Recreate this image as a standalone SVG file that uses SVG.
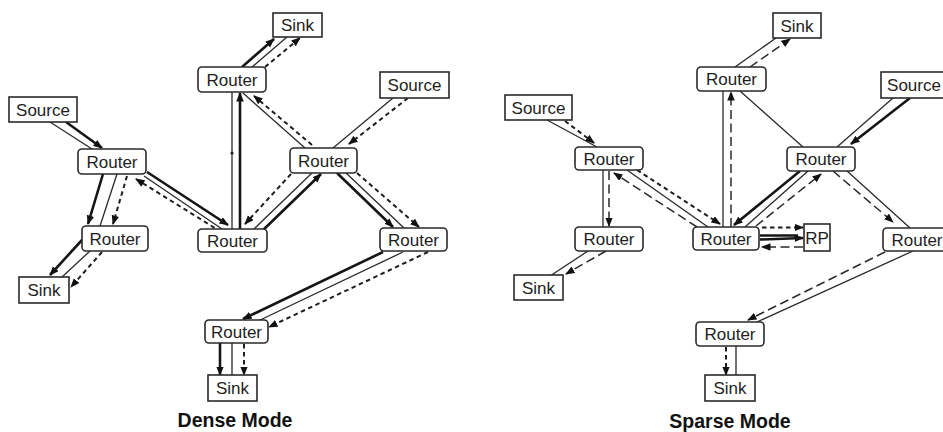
<svg xmlns="http://www.w3.org/2000/svg" width="943" height="432" viewBox="0 0 943 432">
  <style>
    .box { fill: #fff; stroke: #2a2a2a; stroke-width: 1.6; }
    .lbl { font-family: "Liberation Sans", Arial, sans-serif; font-size: 17px; fill: #1e1e1e; text-anchor: middle; }
    .title { font-family: "Liberation Sans", Arial, sans-serif; font-size: 19.5px; font-weight: bold; fill: #111; text-anchor: middle; }
    .thin { stroke: #2a2a2a; stroke-width: 1.3; fill: none; }
    .thick { stroke: #151515; stroke-width: 2.6; fill: none; }
    .dash { stroke: #1e1e1e; stroke-width: 2; stroke-dasharray: 4.5 3.5; fill: none; }
    .ldash { stroke: #2a2a2a; stroke-width: 1.5; stroke-dasharray: 9 4.5; fill: none; }
    .arr { marker-end: url(#ah); }
    .arrS { marker-start: url(#ahs); }
  </style>
  <defs>
    <marker id="ah" markerUnits="userSpaceOnUse" markerWidth="10" markerHeight="8" refX="8.5" refY="3.75" orient="auto">
      <path d="M0,0 L9.5,3.75 L0,7.5 z" fill="#111"/>
    </marker>
    <marker id="ahs" markerUnits="userSpaceOnUse" markerWidth="10" markerHeight="8" refX="1" refY="3.75" orient="auto">
      <path d="M9.5,0 L0,3.75 L9.5,7.5 z" fill="#111"/>
    </marker>
  </defs>

  <rect width="943" height="432" fill="#fff"/>

  <!-- connectors -->
  <g id="connectors">
    <!-- dense mode -->
    <line class="thin" x1="50" y1="122" x2="92" y2="149"/>
    <line class="thick arr" x1="66" y1="122" x2="102" y2="148"/>

    <line class="thick arr" x1="103" y1="174" x2="88" y2="224"/>
    <line class="thin" x1="117" y1="174" x2="100" y2="226"/>
    <line class="dash arr" x1="127" y1="176" x2="113" y2="224"/>

    <line class="thick arr" x1="82" y1="240" x2="50" y2="275"/>
    <line class="thin" x1="90" y1="251" x2="62" y2="277"/>
    <line class="dash arr" x1="102" y1="252" x2="71" y2="287"/>

    <line class="thick arr" x1="147" y1="172" x2="228" y2="225"/>
    <line class="thin" x1="144" y1="176" x2="222" y2="229"/>
    <line class="dash arrS" x1="136" y1="179" x2="218" y2="230"/>

    <line class="thin" x1="232" y1="92" x2="232" y2="229"/>
    <circle cx="232" cy="153" r="1.6" fill="#222"/>
    <line class="thick arr" x1="240" y1="229" x2="240" y2="93"/>

    <line class="thick arr" x1="242" y1="67" x2="274" y2="39"/>
    <line class="thin" x1="252" y1="67" x2="287" y2="37"/>
    <line class="dash arr" x1="265" y1="67" x2="300" y2="38"/>

    <line class="thin" x1="243" y1="93" x2="305" y2="148"/>
    <line class="dash arr" x1="312" y1="145" x2="254" y2="96"/>

    <line class="thin" x1="393" y1="98" x2="333" y2="148"/>
    <line class="dash arr" x1="408" y1="98" x2="349" y2="144"/>

    <line class="thick arr" x1="260" y1="233" x2="321" y2="174"/>
    <line class="thin" x1="254" y1="229" x2="312" y2="173"/>
    <line class="dash arr" x1="291" y1="174" x2="245" y2="224"/>

    <line class="thick arr" x1="337" y1="173" x2="393" y2="227"/>
    <line class="thin" x1="345" y1="172" x2="404" y2="228"/>
    <line class="dash arr" x1="357" y1="173" x2="419" y2="227"/>

    <line class="thick arr" x1="383" y1="252" x2="243" y2="319"/>
    <line class="thin" x1="403" y1="252" x2="258" y2="321"/>
    <line class="dash arr" x1="428" y1="252" x2="269" y2="327"/>

    <line class="thick arr" x1="220" y1="343" x2="220" y2="375"/>
    <line class="thin" x1="232" y1="343" x2="232" y2="375"/>
    <line class="dash arr" x1="244" y1="344" x2="244" y2="375"/>

    <!-- sparse mode -->
    <line class="thin" x1="547" y1="120" x2="597" y2="147"/>
    <line class="dash arr" x1="565" y1="121" x2="594" y2="143"/>

    <line class="thin" x1="603" y1="170" x2="603" y2="227"/>
    <line class="ldash arr" x1="609" y1="171" x2="609" y2="226"/>

    <line class="thin" x1="588" y1="251" x2="550" y2="276"/>
    <line class="ldash arr" x1="606" y1="251" x2="566" y2="274"/>

    <line class="dash arr" x1="637" y1="170" x2="720" y2="224"/>
    <line class="thin" x1="627" y1="170" x2="708" y2="227"/>
    <line class="ldash arr" x1="697" y1="227" x2="614" y2="173"/>

    <line class="thin" x1="723" y1="227" x2="723" y2="91"/>
    <line class="ldash arr" x1="731" y1="227" x2="731" y2="92"/>

    <line class="thin" x1="735" y1="67" x2="776" y2="38"/>
    <line class="ldash arr" x1="750" y1="67" x2="790" y2="39"/>

    <line class="thin" x1="740" y1="91" x2="803" y2="147"/>

    <line class="thin" x1="893" y1="98" x2="837" y2="147"/>
    <line class="thick arr" x1="910" y1="98" x2="851" y2="144"/>

    <line class="thick arr" x1="800" y1="171" x2="734" y2="225"/>
    <line class="thin" x1="808" y1="171" x2="745" y2="227"/>
    <line class="ldash arr" x1="756" y1="226" x2="821" y2="174"/>

    <line class="ldash arr" x1="833" y1="171" x2="893" y2="222"/>
    <line class="thin" x1="847" y1="171" x2="910" y2="228"/>

    <line class="ldash arr" x1="885" y1="252" x2="748" y2="320"/>
    <line class="thin" x1="913" y1="251" x2="757" y2="322"/>

    <line class="dash arr" x1="726" y1="347" x2="726" y2="375"/>
    <line class="thin" x1="736" y1="346" x2="736" y2="375"/>

    <line class="dash arr" x1="762" y1="227.5" x2="803" y2="227.5"/>
    <line class="thick" x1="760" y1="235.5" x2="798" y2="235.5"/>
    <line class="thick arr" x1="760" y1="239.5" x2="803" y2="238"/>
    <line class="ldash arr" x1="803" y1="247" x2="762" y2="247"/>
  </g>

  <!-- dense mode nodes -->
  <g id="d-sink-top"><rect class="box" x="273" y="13" width="49" height="24"/><text class="lbl" x="297.5" y="31">Sink</text></g>
  <g id="d-router-top"><rect class="box" x="198" y="67" width="68" height="25" rx="4"/><text class="lbl" x="232" y="86">Router</text></g>
  <g id="d-source-right"><rect class="box" x="380" y="72" width="69" height="26"/><text class="lbl" x="414.5" y="91">Source</text></g>
  <g id="d-router-mid"><rect class="box" x="290" y="148" width="67" height="25" rx="4"/><text class="lbl" x="323.5" y="167">Router</text></g>
  <g id="d-router-center"><rect class="box" x="198" y="229" width="69" height="23" rx="4"/><text class="lbl" x="232.5" y="247">Router</text></g>
  <g id="d-router-right"><rect class="box" x="380" y="228" width="67" height="23" rx="4"/><text class="lbl" x="413.5" y="246">Router</text></g>
  <g id="d-source-left"><rect class="box" x="9" y="97" width="68" height="25"/><text class="lbl" x="43" y="116">Source</text></g>
  <g id="d-router-left"><rect class="box" x="78" y="149" width="68" height="25" rx="4"/><text class="lbl" x="112" y="168">Router</text></g>
  <g id="d-router-lower"><rect class="box" x="82" y="226" width="66" height="25" rx="4"/><text class="lbl" x="115" y="245">Router</text></g>
  <g id="d-sink-left"><rect class="box" x="19" y="277" width="50" height="26"/><text class="lbl" x="44" y="296">Sink</text></g>
  <g id="d-router-bottom"><rect class="box" x="205" y="320" width="63" height="23" rx="4"/><text class="lbl" x="236.5" y="338">Router</text></g>
  <g id="d-sink-bottom"><rect class="box" x="208" y="375" width="49" height="26"/><text class="lbl" x="232.5" y="394">Sink</text></g>

  <!-- sparse mode nodes -->
  <g id="s-sink-top"><rect class="box" x="773" y="13" width="48" height="25"/><text class="lbl" x="797" y="32">Sink</text></g>
  <g id="s-router-top"><rect class="box" x="697" y="67" width="69" height="24" rx="4"/><text class="lbl" x="731.5" y="85">Router</text></g>
  <g id="s-source-right"><rect class="box" x="881" y="72" width="66" height="26"/><text class="lbl" x="914" y="91">Source</text></g>
  <g id="s-router-mid"><rect class="box" x="787" y="147" width="68" height="24" rx="4"/><text class="lbl" x="821" y="165">Router</text></g>
  <g id="s-router-center"><rect class="box" x="693" y="227" width="66" height="23" rx="4"/><text class="lbl" x="726" y="245">Router</text></g>
  <g id="s-rp"><rect class="box" x="804" y="224" width="26" height="27"/><text class="lbl" x="817" y="244">RP</text></g>
  <g id="s-router-right"><rect class="box" x="883" y="228" width="68" height="23" rx="4"/><text class="lbl" x="917" y="246">Router</text></g>
  <g id="s-source-left"><rect class="box" x="505" y="95" width="67" height="25"/><text class="lbl" x="538.5" y="114">Source</text></g>
  <g id="s-router-left"><rect class="box" x="575" y="147" width="68" height="23" rx="4"/><text class="lbl" x="609" y="165">Router</text></g>
  <g id="s-router-lower"><rect class="box" x="575" y="227" width="68" height="24" rx="4"/><text class="lbl" x="609" y="245">Router</text></g>
  <g id="s-sink-left"><rect class="box" x="514" y="275" width="49" height="25"/><text class="lbl" x="538.5" y="294">Sink</text></g>
  <g id="s-router-bottom"><rect class="box" x="696" y="322" width="68" height="24" rx="4"/><text class="lbl" x="730" y="340">Router</text></g>
  <g id="s-sink-bottom"><rect class="box" x="705" y="375" width="50" height="26"/><text class="lbl" x="730" y="394">Sink</text></g>

  <!-- panel captions -->
  <text class="title" x="235" y="427">Dense Mode</text>
  <text class="title" x="730" y="428">Sparse Mode</text>
</svg>
